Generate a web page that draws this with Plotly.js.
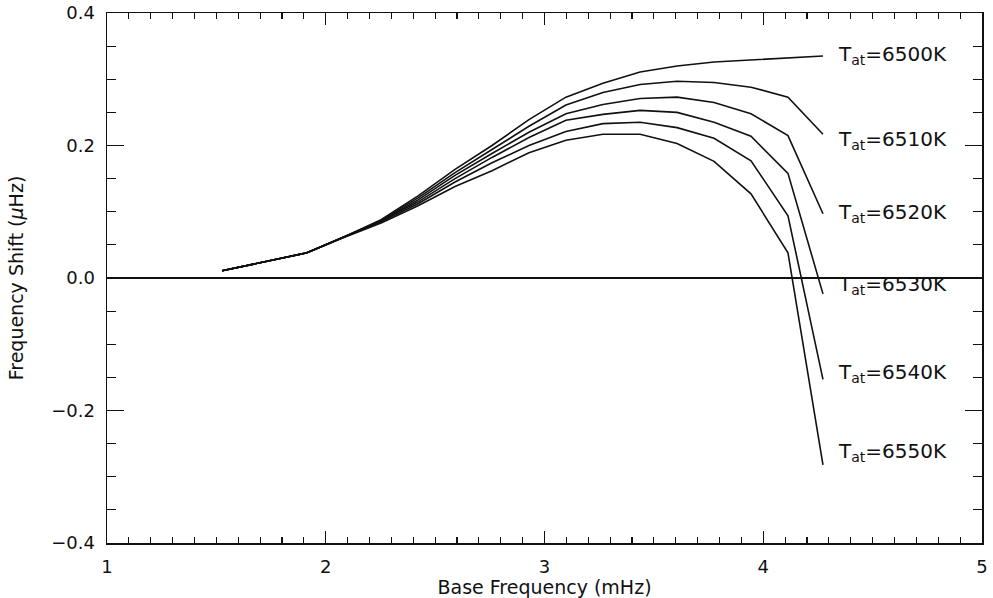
<!DOCTYPE html>
<html>
<head>
<meta charset="utf-8">
<script src="https://cdn.plot.ly/plotly-3.0.1.min.js"></script>
<style>html,body{margin:0;padding:0;background:#fff;}#chart{width:993px;height:598px;}</style>
</head>
<body>
<div id="chart"></div>
<script>
// Base frequency (mHz) at the model points
const baseFreq = [1.526, 1.914, 2.083, 2.253, 2.422, 2.591, 2.760, 2.929, 3.098, 3.267, 3.437, 3.606, 3.775, 3.944, 4.113, 4.273];

// Frequency shift (µHz) for each atmospheric temperature
const shift6500 = [0.011, 0.038, 0.062, 0.088, 0.124, 0.164, 0.200, 0.239, 0.273, 0.294, 0.311, 0.320, 0.326, 0.329, 0.332, 0.335];
const shift6510 = [0.011, 0.038, 0.062, 0.087, 0.121, 0.159, 0.194, 0.229, 0.261, 0.280, 0.292, 0.297, 0.295, 0.288, 0.273, 0.217];
const shift6520 = [0.011, 0.038, 0.062, 0.086, 0.118, 0.155, 0.188, 0.220, 0.248, 0.262, 0.271, 0.273, 0.265, 0.248, 0.215, 0.097];
const shift6530 = [0.011, 0.038, 0.062, 0.086, 0.115, 0.150, 0.182, 0.212, 0.238, 0.247, 0.253, 0.250, 0.235, 0.214, 0.158, -0.024];
const shift6540 = [0.011, 0.038, 0.062, 0.085, 0.112, 0.145, 0.174, 0.200, 0.221, 0.233, 0.235, 0.227, 0.211, 0.177, 0.094, -0.153];
const shift6550 = [0.011, 0.038, 0.061, 0.083, 0.109, 0.138, 0.162, 0.189, 0.208, 0.217, 0.217, 0.203, 0.176, 0.127, 0.038, -0.282];

const temps = ['6500', '6510', '6520', '6530', '6540', '6550'];
const series = [shift6500, shift6510, shift6520, shift6530, shift6540, shift6550];

// label pixel offsets relative to line ends (style only; positive = up)
const labelYShift = [1, -6, 1, 9, 6, 13];

const FONT = 'DejaVu Sans, Liberation Sans, sans-serif';

const traces = series.map((s, i) => ({
  x: baseFreq, y: s, type: 'scatter', mode: 'lines',
  line: {color: '#111', width: 1.6},
  name: temps[i], showlegend: false, hoverinfo: 'skip'
}));

const annotations = series.map((s, i) => ({
  x: baseFreq[baseFreq.length - 1], y: s[s.length - 1],
  xref: 'x', yref: 'y',
  text: 'T<sub>at</sub>=' + temps[i] + 'K',
  showarrow: false, xanchor: 'left', yanchor: 'middle',
  xshift: 13, yshift: labelYShift[i],
  font: {family: FONT, size: 20, color: '#111'}
}));

const layout = {
  width: 993, height: 598,
  margin: {l: 107, r: 11, t: 13, b: 55},
  paper_bgcolor: '#fff', plot_bgcolor: '#fff',
  font: {family: FONT, color: '#111'},
  showlegend: false,
  xaxis: {
    range: [1, 5], tick0: 1, dtick: 1,
    showgrid: false, zeroline: false,
    showline: true, linecolor: '#111', linewidth: 1.5, mirror: 'ticks',
    ticks: 'inside', ticklen: 12, tickwidth: 1.3, tickcolor: '#111',
    minor: {dtick: 0.1, ticks: 'inside', ticklen: 6, tickwidth: 1.2, tickcolor: '#111', showgrid: false},
    tickfont: {family: FONT, size: 18, color: '#111'},
    ticklabelstandoff: 7,
    title: {text: 'Base Frequency (mHz)', font: {family: FONT, size: 19, color: '#111'}, standoff: 2}
  },
  yaxis: {
    range: [-0.4, 0.4], tick0: -0.4, dtick: 0.2, tickformat: '.1f',
    showgrid: false,
    zeroline: true, zerolinecolor: '#111', zerolinewidth: 1.5,
    showline: true, linecolor: '#111', linewidth: 1.5, mirror: 'ticks',
    ticks: 'inside', ticklen: 17, tickwidth: 1.3, tickcolor: '#111',
    minor: {dtick: 0.05, ticks: 'inside', ticklen: 9, tickwidth: 1.2, tickcolor: '#111', showgrid: false},
    tickfont: {family: FONT, size: 18, color: '#111'},
    ticklabelstandoff: 7,
    title: {text: 'Frequency Shift (<i>μ</i>Hz)', font: {family: FONT, size: 19, color: '#111'}, standoff: 22}
  },
  annotations: annotations
};

Plotly.newPlot('chart', traces, layout, {staticPlot: true, displayModeBar: false});
</script>
</body>
</html>
